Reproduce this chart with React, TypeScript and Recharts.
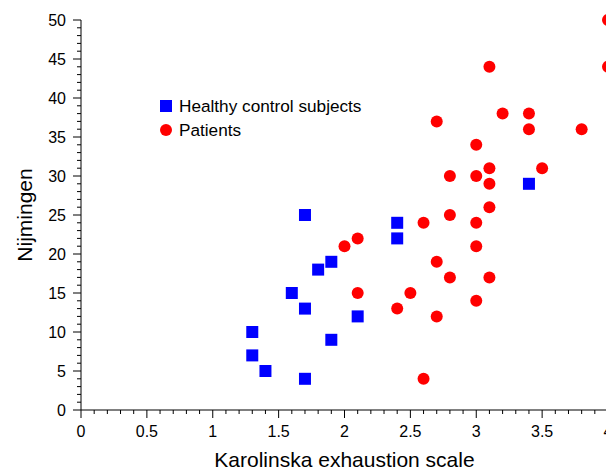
import React from 'react';
import { ScatterChart, Scatter, XAxis, YAxis, Legend } from 'recharts';

// Karolinska exhaustion scale vs Nijmingen score
const healthySubjects = [
  { x: 1.3, y: 10 }, { x: 1.3, y: 7 }, { x: 1.4, y: 5 }, { x: 1.6, y: 15 },
  { x: 1.7, y: 25 }, { x: 1.7, y: 13 }, { x: 1.7, y: 4 }, { x: 1.8, y: 18 },
  { x: 1.9, y: 19 }, { x: 1.9, y: 9 }, { x: 2.1, y: 12 }, { x: 2.4, y: 24 },
  { x: 2.4, y: 22 }, { x: 3.4, y: 29 },
];

const patients = [
  { x: 2.0, y: 21 }, { x: 2.1, y: 22 }, { x: 2.1, y: 15 }, { x: 2.4, y: 13 },
  { x: 2.5, y: 15 }, { x: 2.6, y: 24 }, { x: 2.6, y: 4 }, { x: 2.7, y: 37 },
  { x: 2.7, y: 19 }, { x: 2.7, y: 12 }, { x: 2.8, y: 30 }, { x: 2.8, y: 25 },
  { x: 2.8, y: 17 }, { x: 3.0, y: 34 }, { x: 3.0, y: 30 }, { x: 3.0, y: 24 },
  { x: 3.0, y: 21 }, { x: 3.0, y: 14 }, { x: 3.1, y: 44 }, { x: 3.1, y: 31 },
  { x: 3.1, y: 29 }, { x: 3.1, y: 26 }, { x: 3.1, y: 17 }, { x: 3.2, y: 38 },
  { x: 3.4, y: 38 }, { x: 3.4, y: 36 }, { x: 3.5, y: 31 }, { x: 3.8, y: 36 },
  { x: 4.0, y: 50 }, { x: 4.0, y: 44 },
];

// minor ticks every 0.1 / every 1, labels on majors only
const xTicks = Array.from({ length: 41 }, (_, i) => i / 10);
const yTicks = Array.from({ length: 51 }, (_, i) => i);

const FONT = '"Liberation Sans", Arial, Helvetica, sans-serif';

const isMajorX = (v: number) => Math.abs(v * 2 - Math.round(v * 2)) < 1e-6;

const XTick = (props: any) => {
  const { x, y, payload } = props;
  const major = isMajorX(payload.value);
  return (
    <g>
      <line x1={x} x2={x} y1={y} y2={y + (major ? 8 : 4)} stroke="#000" strokeWidth={1} />
      {major && (
        <text x={x} y={y + 27} textAnchor="middle" fontSize={16} fontFamily={FONT} fill="#000">
          {payload.value}
        </text>
      )}
    </g>
  );
};

const YTick = (props: any) => {
  const { x, y, payload } = props;
  const major = payload.value % 5 === 0;
  return (
    <g>
      <line x1={x - (major ? 8 : 4)} x2={x} y1={y} y2={y} stroke="#000" strokeWidth={1} />
      {major && (
        <text x={x - 15} y={y} dy="0.36em" textAnchor="end" fontSize={16} fontFamily={FONT} fill="#000">
          {payload.value}
        </text>
      )}
    </g>
  );
};

const LegendBox = (props: any) => {
  const { payload = [] } = props;
  return (
    <div style={{ fontFamily: FONT, fontSize: 17.2, color: '#000' }}>
      {payload.map((entry: any) => (
        <div key={entry.value} style={{ display: 'flex', alignItems: 'center', height: 24 }}>
          <svg width={12} height={12} style={{ marginRight: 7 }}>
            {entry.type === 'square'
              ? <rect x={0} y={0} width={12} height={12} fill={entry.color} />
              : <circle cx={6} cy={6} r={6} fill={entry.color} />}
          </svg>
          <span>{entry.value}</span>
        </div>
      ))}
    </div>
  );
};

const App: React.FC = () => {
  return (
    <div style={{ position: 'fixed', left: 0, top: 0, width: 606, height: 469, overflow: 'hidden', background: '#fff' }}>
      <ScatterChart width={640} height={469} margin={{ top: 20, right: 32, bottom: 0, left: 0 }} style={{ fontFamily: FONT }}>
        <XAxis
          type="number"
          dataKey="x"
          domain={[0, 4]}
          ticks={xTicks}
          interval={0}
          tickSize={0}
          tickMargin={0}
          tickLine={false}
          tick={<XTick />}
          axisLine={{ stroke: '#000' }}
          height={59}
          label={{
            content: (p: any) => (
              <text x={p.viewBox.x + p.viewBox.width / 2} y={p.viewBox.y + 57} textAnchor="middle" fontSize={21} fontFamily={FONT} fill="#000">
                Karolinska exhaustion scale
              </text>
            ),
          }}
        />
        <YAxis
          type="number"
          dataKey="y"
          domain={[0, 50]}
          ticks={yTicks}
          interval={0}
          tickSize={0}
          tickMargin={0}
          tickLine={false}
          tick={<YTick />}
          axisLine={{ stroke: '#000' }}
          width={81}
          label={{
            content: (p: any) => {
              const cx = p.viewBox.x + 32;
              const cy = p.viewBox.y + p.viewBox.height / 2;
              return (
                <text x={cx} y={cy} transform={`rotate(-90 ${cx} ${cy})`} textAnchor="middle" fontSize={21} fontFamily={FONT} fill="#000">
                  Nijmingen
                </text>
              );
            },
          }}
        />
        <Legend
          layout="vertical"
          align="center"
          verticalAlign="middle"
          wrapperStyle={{ left: 160, top: 94, width: 'auto' }}
          content={<LegendBox />}
        />
        <Scatter
          name="Healthy control subjects"
          data={healthySubjects}
          fill="#0000ff"
          legendType="square"
          isAnimationActive={false}
          shape={(p: any) => <rect x={p.cx - 6} y={p.cy - 6} width={12} height={12} fill="#0000ff" />}
        />
        <Scatter
          name="Patients"
          data={patients}
          fill="#ff0000"
          legendType="circle"
          isAnimationActive={false}
          shape={(p: any) => <circle cx={p.cx} cy={p.cy} r={6} fill="#ff0000" />}
        />
      </ScatterChart>
    </div>
  );
};

export default App;
